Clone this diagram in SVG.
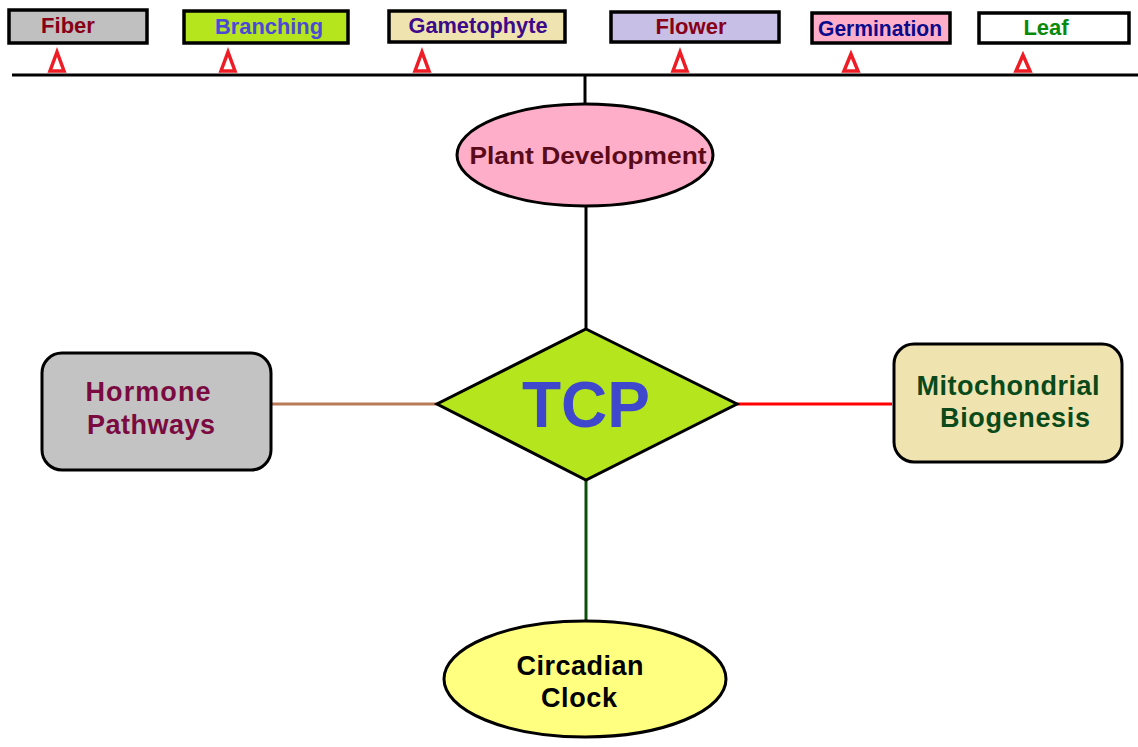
<svg xmlns="http://www.w3.org/2000/svg" width="1138" height="747" viewBox="0 0 1138 747">
<style>
.tag{stroke:#000;stroke-width:3.5}
.tt{font-family:"Liberation Sans",Arial,sans-serif;font-weight:bold;font-size:22px;text-anchor:middle}
.big{font-family:"Liberation Sans",Arial,sans-serif;font-weight:bold;text-anchor:middle}
.node{stroke:#000;stroke-width:3}
.tri{fill:#fff;stroke:#ee1c24;stroke-width:3.5;stroke-linejoin:miter}
</style>
<rect width="1138" height="747" fill="#fff"/>
<g id="connectors">
<line x1="12" y1="75" x2="1138" y2="75" stroke="#000" stroke-width="3"/>
<line x1="585" y1="75" x2="585" y2="105" stroke="#000" stroke-width="3"/>
<line x1="586" y1="206" x2="586" y2="330" stroke="#000" stroke-width="3"/>
<line x1="272" y1="404" x2="437" y2="404" stroke="#b97a57" stroke-width="3"/>
<line x1="737" y1="404" x2="892" y2="404" stroke="#ff0000" stroke-width="3"/>
<line x1="586" y1="480" x2="586" y2="621" stroke="#0b4f0b" stroke-width="3"/>
<polygon class="tri" points="57,52 50,71 64,71"/>
<polygon class="tri" points="228,52 221,71 235,71"/>
<polygon class="tri" points="422,52 415,71 429,71"/>
<polygon class="tri" points="680,52 673,71 687,71"/>
<polygon class="tri" points="851,54 844,71 858,71"/>
<polygon class="tri" points="1023,55 1016,71 1030,71"/>
</g>
<g id="fiber"><rect class="tag" x="9" y="10" width="138" height="33" fill="#c0c0c0"/><text class="tt" x="68" y="33" fill="#880015">Fiber</text></g>
<g id="branching"><rect class="tag" x="184" y="11" width="164" height="32" fill="#b5e61d"/><text class="tt" x="269" y="34" fill="#4a4ad6" textLength="108" lengthAdjust="spacingAndGlyphs">Branching</text></g>
<g id="gametophyte"><rect class="tag" x="389" y="11" width="176" height="31" fill="#efe4b0"/><text class="tt" x="478" y="33" fill="#3d0a8a" textLength="139" lengthAdjust="spacingAndGlyphs">Gametophyte</text></g>
<g id="flower"><rect class="tag" x="611" y="12" width="168" height="30" fill="#c8bfe7"/><text class="tt" x="691" y="34" fill="#880015">Flower</text></g>
<g id="germination"><rect class="tag" x="812" y="13" width="138" height="30" fill="#ffaec9"/><text class="tt" x="880" y="36" fill="#0a0a8a" textLength="124" lengthAdjust="spacingAndGlyphs">Germination</text></g>
<g id="leaf"><rect class="tag" x="979" y="13" width="150" height="30" fill="#fff"/><text class="tt" x="1046" y="35" fill="#0a8a0a">Leaf</text></g>
<g id="plant-development"><ellipse class="node" cx="585" cy="155" rx="128" ry="51" fill="#ffaec9"/><text class="big" x="588" y="164" font-size="24" fill="#5a0a18" textLength="237" lengthAdjust="spacingAndGlyphs">Plant Development</text></g>
<g id="tcp"><polygon class="node" points="586,329 737,404 586,480 437,404" fill="#b5e61d"/><text class="big" x="586" y="427" font-size="64" fill="#3f48cc">TCP</text></g>
<g id="hormone"><rect class="node" x="42" y="353" width="229" height="117" rx="20" fill="#c3c3c3"/><text class="big" x="148" y="401" font-size="27" fill="#7a0a40" textLength="125" lengthAdjust="spacing">Hormone</text><text class="big" x="151" y="434" font-size="27" fill="#7a0a40" textLength="128" lengthAdjust="spacing">Pathways</text></g>
<g id="mito"><rect class="node" x="894" y="344" width="228" height="118" rx="20" fill="#efe4b0"/><text class="big" x="1008" y="395" font-size="27" fill="#0a4a1a" textLength="183" lengthAdjust="spacing">Mitochondrial</text><text class="big" x="1015" y="427" font-size="27" fill="#0a4a1a" textLength="150" lengthAdjust="spacing">Biogenesis</text></g>
<g id="circadian"><ellipse class="node" cx="585" cy="679" rx="141" ry="58" fill="#ffff80"/><text class="big" x="580" y="675" font-size="27" fill="#000" textLength="127" lengthAdjust="spacing">Circadian</text><text class="big" x="579" y="707" font-size="27" fill="#000" textLength="76" lengthAdjust="spacing">Clock</text></g>
</svg>
